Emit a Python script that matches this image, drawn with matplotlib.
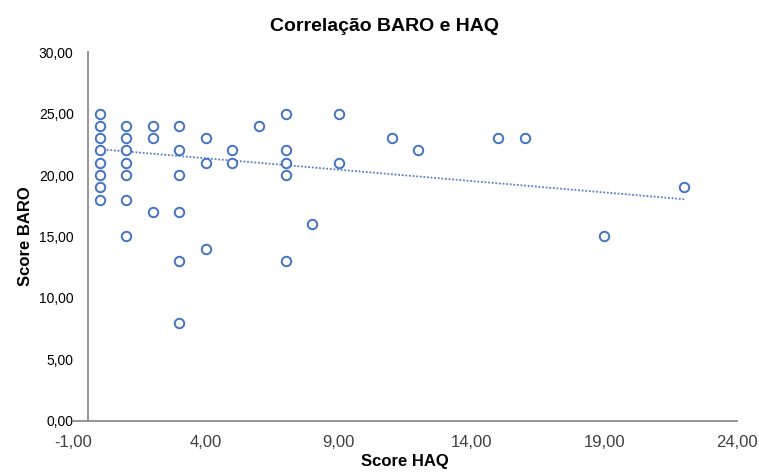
import matplotlib
matplotlib.use("Agg")
from matplotlib import pyplot as plt
import numpy as np

# Score HAQ (x) and Score BARO (y)
haq = [0, 0, 0, 0, 0, 0, 0, 0,
       1, 1, 1, 1, 1, 1, 1,
       2, 2, 2,
       3, 3, 3, 3, 3, 3,
       4, 4, 4,
       5, 5,
       6,
       7, 7, 7, 7, 7,
       8,
       9, 9,
       11, 12, 15, 16, 19, 22]
baro = [25, 24, 23, 22, 21, 20, 19, 18,
        24, 23, 22, 21, 20, 18, 15,
        24, 23, 17,
        24, 22, 20, 17, 13, 8,
        23, 21, 14,
        22, 21,
        24,
        25, 22, 21, 20, 13,
        16,
        25, 21,
        23, 22, 23, 23, 15, 19]

# linear trend line as shown in the picture
trend_intercept = 22.1
trend_slope = -0.185

x_ticks = [-1, 4, 9, 14, 19, 24]
y_ticks = [0, 5, 10, 15, 20, 25, 30]

def fmt(v):
    return ("%.2f" % v).replace(".", ",")

def main():
    plt.rcParams['font.family'] = ['Liberation Sans', 'DejaVu Sans']
    blue = '#4472C4'
    axis_grey = '#8c8c8c'
    label_grey = '#404040'

    fig = plt.figure(figsize=(7.59, 4.73), dpi=100)
    ax = fig.add_axes([0.0962, 0.110, 0.875, 0.780])

    tx = np.array([min(haq), max(haq)])
    ax.plot(tx, trend_intercept + trend_slope * tx, linestyle=(0, (1, 1)),
            color=blue, linewidth=1.3, alpha=0.9)
    ax.plot(haq, baro, 'o', markersize=6.8, markerfacecolor='white',
            markeredgecolor=blue, markeredgewidth=1.4, linestyle='none')

    ax.set_xlim(-1, 24)
    ax.set_ylim(0, 30)
    ax.set_xticks(x_ticks)
    ax.set_xticklabels([fmt(v) for v in x_ticks], fontsize=12, color=label_grey)
    ax.set_yticks(y_ticks)
    ax.set_yticklabels([fmt(v) for v in y_ticks], fontsize=12, color=label_grey)

    for s in ['top', 'right']:
        ax.spines[s].set_visible(False)
    ax.spines['left'].set_position(('data', -0.454))
    ax.spines['left'].set_color(axis_grey)
    ax.spines['left'].set_linewidth(1.3)
    ax.spines['bottom'].set_color(axis_grey)
    ax.spines['bottom'].set_linewidth(1.3)
    ax.tick_params(axis='x', length=0, pad=10)
    ax.tick_params(axis='y', length=0, pad=10)

    ax.set_xlabel("Score HAQ", fontsize=12, fontweight='bold', labelpad=3)
    ax.set_ylabel("Score BARO", fontsize=12, fontweight='bold', labelpad=4)
    fig.text(0.506, 0.945, "Correlação BARO e HAQ", ha='center', va='center',
             fontsize=14, fontweight='bold')

    fig.savefig("out.png", dpi=100)

if __name__ == '__main__':
    main()
